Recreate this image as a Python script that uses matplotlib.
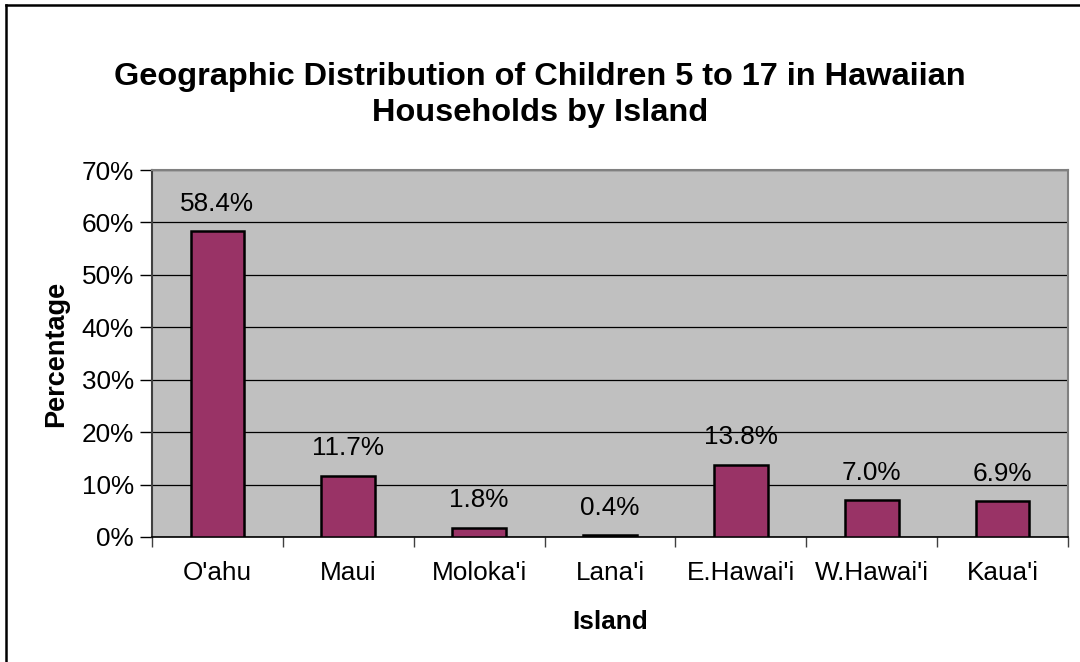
import numpy as np
import matplotlib.pyplot as plt
from matplotlib.lines import Line2D
from matplotlib.ticker import FuncFormatter

islands = ["O'ahu", "Maui", "Moloka'i", "Lana'i", "E.Hawai'i", "W.Hawai'i", "Kaua'i"]
share = [58.4, 11.7, 1.8, 0.4, 13.8, 7.0, 6.9]

plt.rcParams["font.family"] = ["Liberation Sans", "DejaVu Sans"]
fs = 18.8

fig = plt.figure(figsize=(10.8, 6.62), dpi=100)
ax = fig.add_axes([152 / 1080, 1 - 537 / 662, 916 / 1080, 367 / 662])
ax.set_facecolor("#c0c0c0")

x = np.arange(len(islands))
bars = ax.bar(x, share, width=0.41, color="#993366", edgecolor="black", linewidth=1.8, zorder=3)
for b, v in zip(bars, share):
    ax.annotate(f"{v:.1f}%", (b.get_x() + b.get_width() / 2, v), xytext=(0, 11),
                textcoords="offset points", ha="center", va="bottom", fontsize=fs)

ax.set_xlim(-0.5, len(islands) - 0.5)
ax.set_ylim(0, 70)
ax.set_yticks(np.arange(0, 71, 10))
ax.yaxis.set_major_formatter(FuncFormatter(lambda v, _: f"{v:.0f}%"))
ax.set_xticks(x)
ax.set_xticklabels(islands)
ax.set_xticks(np.arange(-0.5, len(islands), 1), minor=True)
ax.tick_params(axis="x", which="major", length=0, pad=17, labelsize=fs)
ax.tick_params(axis="x", which="minor", length=7, width=1, color="#404040")
ax.tick_params(axis="y", length=9, width=1, labelsize=fs, pad=4)
ax.grid(axis="y", color="black", linewidth=0.9, zorder=1)

for side in ("top", "right"):
    ax.spines[side].set_color("#808080")
    ax.spines[side].set_linewidth(1.5)
ax.spines["left"].set_color("#404040")
ax.spines["bottom"].set_color("black")
ax.spines["left"].set_linewidth(1.5)
ax.spines["bottom"].set_linewidth(1.2)

ax.set_xlabel("Island", fontsize=fs, fontweight="bold", labelpad=18)
ax.set_ylabel("Percentage", fontsize=19.5, fontweight="bold", labelpad=9)

fig.text(0.5, 1 - 95 / 662, "Geographic Distribution of Children 5 to 17 in Hawaiian\nHouseholds by Island",
         ha="center", va="center", fontsize=23.4, fontweight="bold", linespacing=1.25)

# chart frame (only top and left edges fall inside the image)
fig.add_artist(Line2D([6 / 1080, 6 / 1080], [0, 1 - 5 / 662], color="black", linewidth=1.8,
                      transform=fig.transFigure))
fig.add_artist(Line2D([6 / 1080, 1], [1 - 5 / 662, 1 - 5 / 662], color="black", linewidth=1.8,
                      transform=fig.transFigure))

fig.savefig("out.png", dpi=100)
